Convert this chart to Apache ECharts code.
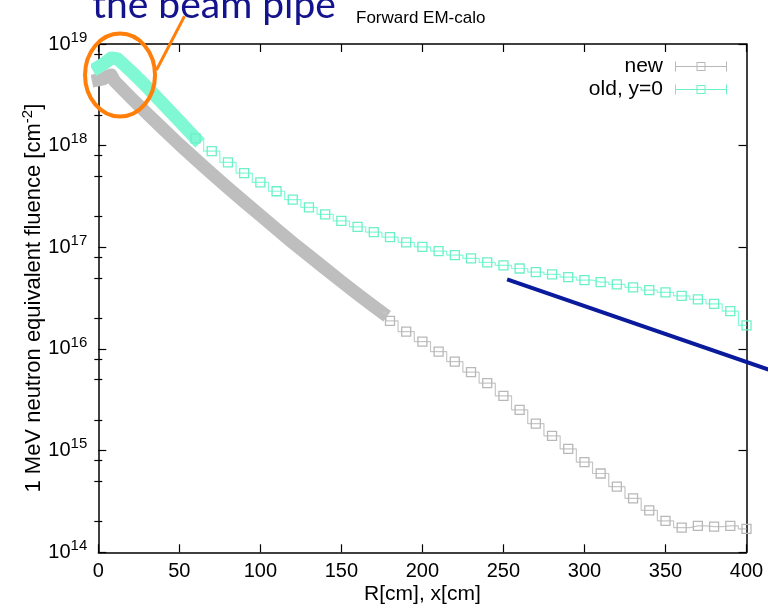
<!DOCTYPE html>
<html><head><meta charset="utf-8">
<script src="https://cdn.jsdelivr.net/npm/echarts@6/dist/echarts.min.js"></script>
<style>html,body{margin:0;padding:0;background:#fff}#c{width:768px;height:611px}</style>
</head><body><div id="c"></div>
<script>
// ---- data ----
const xTicks = [0, 50, 100, 150, 200, 250, 300, 350, 400];
const yDecades = [14, 15, 16, 17, 18, 19];
const minorMantissas = [2, 5, 8];

// "new": dense part (drawn as a thick band) and 10 cm bins
const newDenseR = [0, 3, 6, 8, 10, 20, 30, 40, 50, 60, 70, 80, 90, 100, 110, 120, 130, 140, 150, 160, 170, 175];
const newDenseF = [4.43e18, 4.53e18, 4.84e18, 4.95e18, 4.33e18, 2.98e18, 2.08e18, 1.46e18, 1.03e18, 7.38e17, 5.32e17, 3.85e17, 2.81e17, 2.06e17, 1.51e17, 1.11e17, 8.28e16, 6.17e16, 4.61e16, 3.47e16, 2.62e16, 2.29e16];
const newStepR = [180, 190, 200, 210, 220, 230, 240, 250, 260, 270, 280, 290, 300, 310, 320, 330, 340, 350, 360, 370, 380, 390, 400];
const newStepF = [1.89e16, 1.48e16, 1.18e16, 9.42e15, 7.52e15, 5.92e15, 4.61e15, 3.46e15, 2.52e15, 1.84e15, 1.40e15, 1.04e15, 7.71e14, 5.96e14, 4.42e14, 3.39e14, 2.58e14, 2.04e14, 1.75e14, 1.82e14, 1.79e14, 1.82e14, 1.70e14];

// "old, y=0"
const oldDenseR = [0, 4, 8, 12, 20, 30, 40, 50, 60];
const oldDenseF = [5.94e18, 6.50e18, 7.28e18, 7.12e18, 5.43e18, 3.78e18, 2.57e18, 1.75e18, 1.18e18];
const oldStepR = [60, 70, 80, 90, 100, 110, 120, 130, 140, 150, 160, 170, 180, 190, 200, 210, 220, 230, 240, 250, 260, 270, 280, 290, 300, 310, 320, 330, 340, 350, 360, 370, 380, 390, 400];
const oldStepF = [1.18e18, 8.85e17, 6.85e17, 5.36e17, 4.35e17, 3.56e17, 2.94e17, 2.47e17, 2.11e17, 1.82e17, 1.59e17, 1.41e17, 1.26e17, 1.12e17, 1.01e17, 9.18e16, 8.38e16, 7.78e16, 7.10e16, 6.64e16, 6.19e16, 5.70e16, 5.41e16, 5.09e16, 4.75e16, 4.54e16, 4.32e16, 4.03e16, 3.79e16, 3.60e16, 3.33e16, 3.07e16, 2.78e16, 2.36e16, 1.71e16];

// annotations (data coordinates)
const beamPipeCenter = [13.4, 4.95e18];
const blueLineFrom = [252.3, 4.83e16];
const blueLineTo = [413.6, 6.28e15];
const calloutFrom = [35.9, 5.55e18];
const calloutTo = [53.2, 1.88e19];

// ---- build ----
const L = v => Math.log10(v);
const pairs = (xs, ys) => xs.map((x, i) => [x, L(ys[i])]);
const minorTickVals = [];
yDecades.slice(0, -1).forEach(d => minorMantissas.forEach(m => minorTickVals.push(d + Math.log10(m))));

const FONT = '"Liberation Sans", Arial, Helvetica, sans-serif';
const GRAY_LINE = '#c6c6c6', GRAY_SYM = '#b8b8b8', GRAY_BAND = '#bebebe';
const AQUA_LINE = '#84fcd6', AQUA_SYM = '#6cf0c6', AQUA_BAND = '#80f8d4';

const legendIcon = 'path://M0 0h1v10h-1zM51 0h1v10h-1zM0 4.5h52v1h-52zM21.5 0.5h9v1h-9zM21.5 8.5h9v1h-9zM21.5 0.5h1v9h-1zM29.5 0.5h1v9h-1z';

const yMajor = (pos, labels) => ({
  type: 'value', position: pos, min: 14, max: 19, interval: 1,
  axisLine: { show: true, onZero: false, lineStyle: { color: '#000', width: 1.5 } },
  axisTick: { show: true, inside: true, length: 8, lineStyle: { color: '#000', width: 1.2 } },
  splitLine: { show: false },
  axisLabel: labels ? {
    show: true, margin: 11, color: '#000',
    formatter: v => '{b|10}{s|' + v + '}',
    rich: {
      b: { fontSize: 20, fontFamily: FONT, color: '#000' },
      s: { fontSize: 15, fontFamily: FONT, color: '#000', padding: [0, 0, 13, 0] }
    }
  } : { show: false }
});
const yMinor = (pos) => ({
  type: 'value', position: pos, min: 14, max: 19,
  axisLine: { show: false },
  axisTick: { show: true, inside: true, length: 4, customValues: minorTickVals, lineStyle: { color: '#000', width: 1.2 } },
  axisLabel: { show: false },
  splitLine: { show: false }
});
const xAx = (pos, labels) => ({
  type: 'value', position: pos, min: xTicks[0], max: xTicks[xTicks.length - 1], interval: 50,
  axisLine: { show: true, onZero: false, lineStyle: { color: '#000', width: 1.5 } },
  axisTick: { show: true, inside: true, length: 8, lineStyle: { color: '#000', width: 1.2 } },
  splitLine: { show: false },
  axisLabel: labels ? { show: true, margin: 9, fontSize: 20, fontFamily: FONT, color: '#000' } : { show: false },
  name: labels ? 'R[cm], x[cm]' : '',
  nameLocation: 'middle', nameGap: 31, nameMoveOverlap: false,
  nameTextStyle: { fontSize: 21, fontFamily: FONT, color: '#000' }
});

const yAxis0 = yMajor('left', true);
yAxis0.name = '1 MeV neutron equivalent fluence [cm{s|-2}]';
yAxis0.nameLocation = 'middle';
yAxis0.nameGap = 51;
yAxis0.nameMoveOverlap = false;
yAxis0.nameTextStyle = { fontSize: 22, fontFamily: FONT, color: '#000',
  rich: { s: { fontSize: 15, fontFamily: FONT, color: '#000', padding: [0, 0, 12, 0] } } };

const chart = echarts.init(document.getElementById('c'), null, { renderer: 'canvas' });
const option = {
  animation: false,
  backgroundColor: '#fff',
  title: [
    { text: 'the beam pipe', left: 92, top: -14, padding: 0,
      textStyle: { fontFamily: 'Lato, "Open Sans", sans-serif', fontSize: 39, fontWeight: 'normal', color: '#13138e' } },
    { text: 'Forward EM-calo', left: 356, top: 10, padding: 0,
      textStyle: { fontFamily: FONT, fontSize: 17, fontWeight: 'normal', color: '#000' } }
  ],
  grid: { left: 98.3, right: 21.5, top: 44, bottom: 58.7, containLabel: false },
  xAxis: [xAx('bottom', true), xAx('top', false)],
  yAxis: [yAxis0, yMinor('left'), yMajor('right', false), yMinor('right')],
  legend: {
    orient: 'vertical', right: 36, top: 51, align: 'right',
    itemWidth: 52, itemHeight: 11, itemGap: 2, selectedMode: false,
    textStyle: { fontSize: 21, fontFamily: FONT, color: '#000', padding: [0, 7, 0, 0] },
    data: [
      { name: 'new', icon: legendIcon, itemStyle: { color: GRAY_SYM, borderWidth: 0 } },
      { name: 'old, y=0', icon: legendIcon, itemStyle: { color: AQUA_SYM, borderWidth: 0 } }
    ]
  },
  series: [
    { name: 'new', type: 'line', xAxisIndex: 0, yAxisIndex: 0, data: pairs(newDenseR, newDenseF),
      symbol: 'none', z: 2,
      lineStyle: { color: GRAY_BAND, width: 13, cap: 'square', join: 'round' }, itemStyle: { color: GRAY_BAND } },
    { name: 'new', type: 'line', xAxisIndex: 0, yAxisIndex: 0, step: 'middle', z: 3,
      data: [{ value: [newDenseR[newDenseR.length - 1], L(newDenseF[newDenseF.length - 1])], symbol: 'none' }].concat(pairs(newStepR, newStepF)),
      symbol: 'rect', symbolSize: 9,
      itemStyle: { color: 'rgba(0,0,0,0)', borderColor: GRAY_SYM, borderWidth: 1.3 },
      lineStyle: { color: GRAY_LINE, width: 1.2 } },
    { name: 'old, y=0', type: 'line', xAxisIndex: 0, yAxisIndex: 0, data: pairs(oldDenseR, oldDenseF),
      symbol: 'none', z: 4,
      lineStyle: { color: AQUA_BAND, width: 13, cap: 'square', join: 'round' }, itemStyle: { color: AQUA_BAND } },
    { name: 'old, y=0', type: 'line', xAxisIndex: 0, yAxisIndex: 0, step: 'middle', z: 5,
      data: pairs(oldStepR, oldStepF),
      symbol: 'rect', symbolSize: 9,
      itemStyle: { color: 'rgba(0,0,0,0)', borderColor: AQUA_SYM, borderWidth: 1.3 },
      lineStyle: { color: AQUA_LINE, width: 1.2 } }
  ]
};
chart.setOption(option);

const px = p => chart.convertToPixel({ xAxisIndex: 0, yAxisIndex: 0 }, [p[0], L(p[1])]);
const c = px(beamPipeCenter), b0 = px(blueLineFrom), b1 = px(blueLineTo), o0 = px(calloutFrom), o1 = px(calloutTo);
chart.setOption({
  graphic: [
    { type: 'line', z: 100, shape: { x1: o0[0], y1: o0[1], x2: o1[0], y2: o1[1] },
      style: { stroke: '#ff7f0a', lineWidth: 3 } },
    { type: 'ellipse', z: 100, shape: { cx: c[0], cy: c[1], rx: 35, ry: 41.5 },
      style: { stroke: '#ff7f0a', lineWidth: 4, fill: 'none' } },
    { type: 'line', z: 100, shape: { x1: b0[0], y1: b0[1], x2: b1[0], y2: b1[1] },
      style: { stroke: '#0a1a9c', lineWidth: 4 } }
  ]
});
</script></body></html>
